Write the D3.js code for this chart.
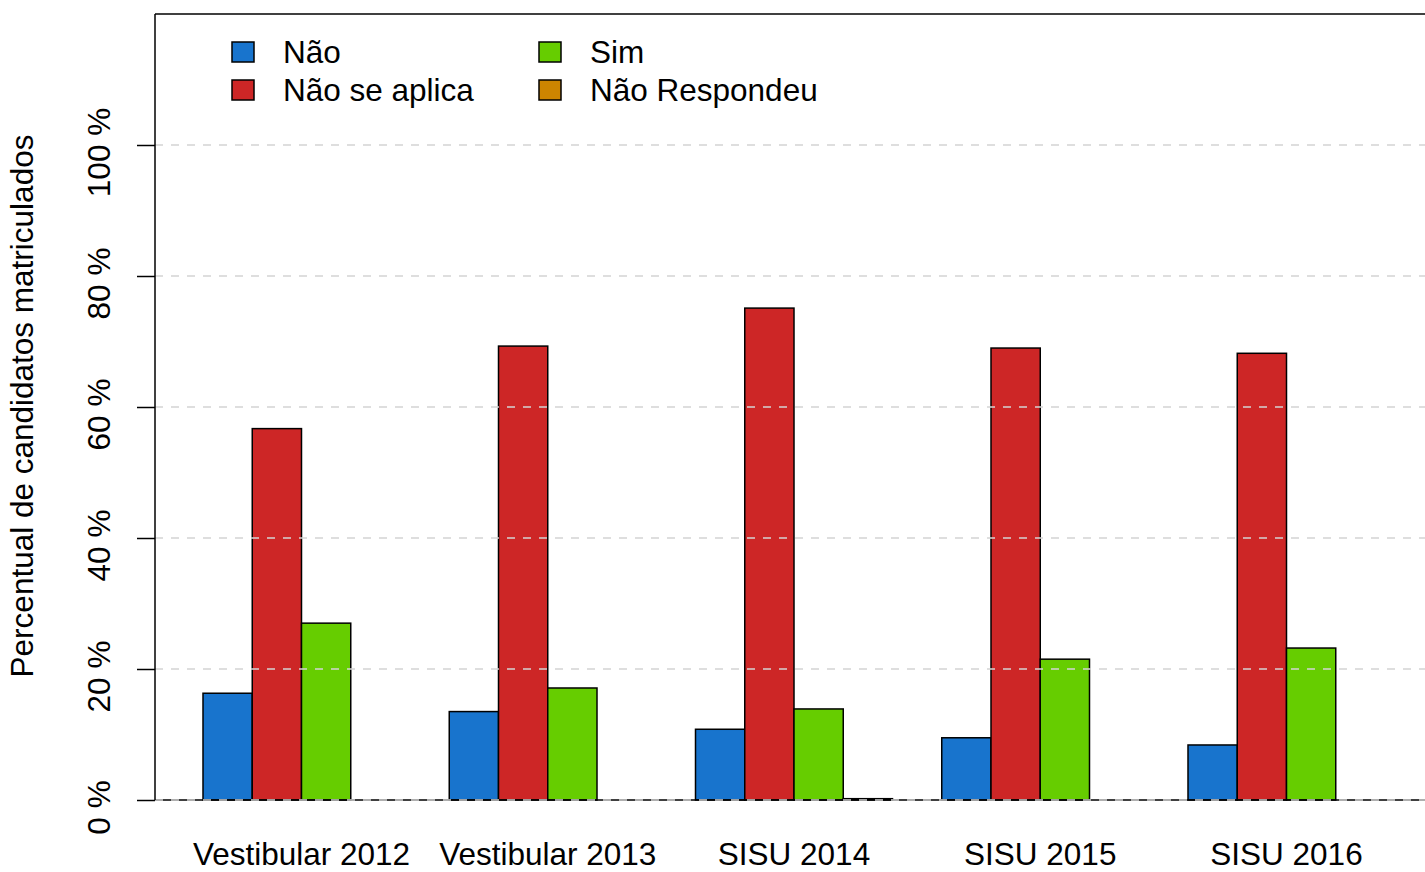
<!DOCTYPE html>
<html>
<head>
<meta charset="utf-8">
<script src="https://cdn.jsdelivr.net/npm/d3@7"></script>
<style>
  body { margin: 0; background: #fff; }
  svg { display: block; font-family: "Liberation Sans", Arial, sans-serif; }
</style>
</head>
<body>
<svg id="chart" width="1425" height="872"></svg>
<script>
// --- data ---
var categories = ["Vestibular 2012", "Vestibular 2013", "SISU 2014", "SISU 2015", "SISU 2016"];
var seriesNames = ["Não", "Não se aplica", "Sim", "Não Respondeu"];
var seriesColors = ["#1874CD", "#CD2626", "#66CD00", "#CD8500"];
var valNao = [16.3, 13.5, 10.8, 9.5, 8.4];
var valNaoSeAplica = [56.7, 69.3, 75.1, 69.0, 68.2];
var valSim = [27.0, 17.1, 13.9, 21.5, 23.2];
var valNaoRespondeu = [0.0, 0.0, 0.2, 0.0, 0.0];
var yTicks = [0, 20, 40, 60, 80, 100];

var series = [valNao, valNaoSeAplica, valSim, valNaoRespondeu];
var fontSize = 31.5;

var svg = d3.select("#chart");

// bar units: 4 bars + 1 gap per group (R barplot beside=TRUE)
var x = d3.scaleLinear().domain([0, 25]).range([153.75, 1385]);
var y = d3.scaleLinear().domain([0, 120]).range([800, 14]);
var unit = x(1) - x(0);

// bars
var bars = [];
categories.forEach(function(c, i) {
    series.forEach(function(s, j) {
        bars.push({ cat: i, ser: j, v: s[i] });
    });
});

svg.append("g").selectAll("rect")
    .data(bars)
    .enter()
    .append("rect")
    .attr("x", d => x(d.cat * 5 + 1 + d.ser))
    .attr("y", d => y(d.v))
    .attr("width", unit)
    .attr("height", d => y(0) - y(d.v))
    .attr("fill", d => seriesColors[d.ser])
    .attr("stroke", "#000")
    .attr("stroke-width", 1.5);

// baseline + grid (drawn over bars)
svg.append("line")
    .attr("x1", 155).attr("x2", 1425)
    .attr("y1", y(0)).attr("y2", y(0))
    .attr("stroke", "#000").attr("stroke-width", 1.5);

svg.append("g").selectAll("line")
    .data(yTicks)
    .enter()
    .append("line")
    .attr("x1", 155).attr("x2", 1425)
    .attr("y1", d => y(d)).attr("y2", d => y(d))
    .attr("stroke", "#d3d3d3")
    .attr("stroke-width", 1.5)
    .attr("stroke-dasharray", "8,8");

// frame: left + top
svg.append("line")
    .attr("x1", 155).attr("x2", 155)
    .attr("y1", y(120)).attr("y2", y(0))
    .attr("stroke", "#000").attr("stroke-width", 1.5);
svg.append("line")
    .attr("x1", 155).attr("x2", 1425)
    .attr("y1", y(120)).attr("y2", y(120))
    .attr("stroke", "#000").attr("stroke-width", 1.5);

// y axis
var yAxis = svg.append("g")
    .attr("transform", "translate(155,0)")
    .call(d3.axisLeft(y).tickValues(yTicks).tickSize(18).tickFormat(d => d + " %"));
yAxis.select(".domain").remove();
yAxis.selectAll(".tick line").attr("stroke", "#000").attr("stroke-width", 1.5);
yAxis.selectAll(".tick text")
    .attr("x", null).attr("dy", null)
    .attr("transform", "translate(-45,7) rotate(-90)")
    .attr("text-anchor", "middle")
    .attr("font-size", fontSize)
    .attr("fill", "#000");

// category labels
svg.append("g").selectAll("text")
    .data(categories)
    .enter()
    .append("text")
    .attr("x", (d, i) => x(i * 5 + 3))
    .attr("y", 865)
    .attr("text-anchor", "middle")
    .attr("font-size", fontSize)
    .text(d => d);

// y title
svg.append("text")
    .attr("transform", "translate(33,406) rotate(-90)")
    .attr("text-anchor", "middle")
    .attr("font-size", fontSize)
    .text("Percentual de candidatos matriculados");

// legend (2 columns, filled row-wise)
var legendPos = [
    { x: 232, y: 42 }, { x: 539, y: 42 },
    { x: 232, y: 80 }, { x: 539, y: 80 }
];
var legendOrder = [0, 2, 1, 3];
var leg = svg.append("g").selectAll("g")
    .data(legendOrder)
    .enter()
    .append("g")
    .attr("transform", (d, k) => "translate(" + legendPos[k].x + "," + legendPos[k].y + ")");
leg.append("rect")
    .attr("width", 22).attr("height", 20)
    .attr("fill", d => seriesColors[d])
    .attr("stroke", "#000").attr("stroke-width", 1.5);
leg.append("text")
    .attr("x", 51).attr("y", 21)
    .attr("font-size", fontSize)
    .text(d => seriesNames[d]);
</script>
</body>
</html>
